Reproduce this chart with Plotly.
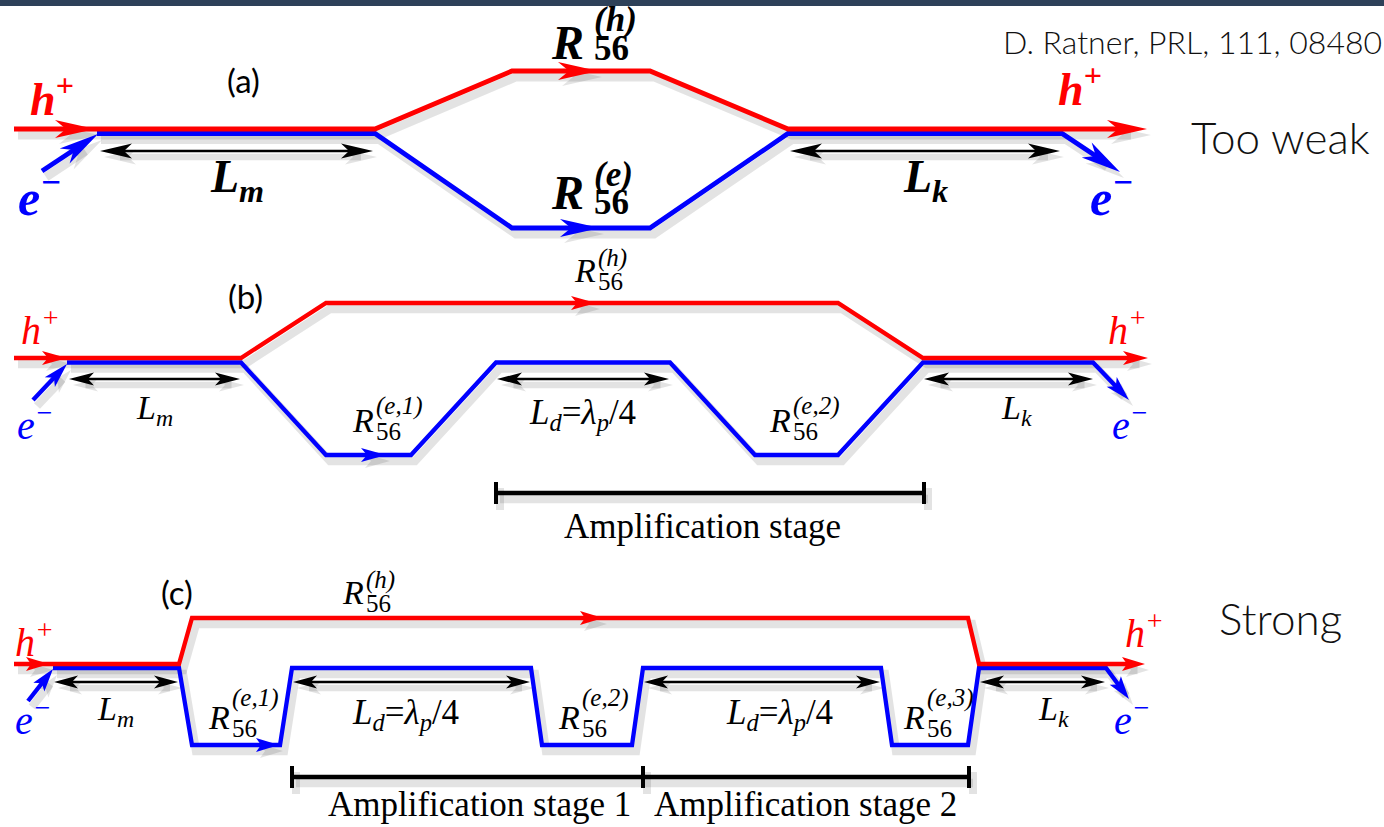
import math
import plotly.graph_objects as go

W, H = 1384, 827
RED, BLUE, BLACK = "#ff0000", "#0000ff", "#000000"
SERIF = "Liberation Serif, Times New Roman, serif"
SANS = "Lato, Open Sans, sans-serif"

# ---------------- geometry data (diagram coordinates) ----------------
# panel (a)
A_RED_X = [14, 375, 512, 650, 788, 1147]
A_RED_Y = [129, 129, 71, 71, 129, 129]
A_BLUE_X = [97, 375, 512, 650, 788, 1062, 1120]
A_BLUE_Y = [133.5, 133.5, 228, 228, 133.5, 133.5, 172]
A_EIN_X = [42, 98]
A_EIN_Y = [171, 134]
A_MID = [(95, 129, RED), (598, 71, RED), (600, 228, BLUE)]
A_DIM_Y = 151
A_DIM = [(100, 373), (790, 1060)]

# panel (b)
B_RED_X = [14, 241, 326, 838, 923, 1148]
B_RED_Y = [358, 358, 303, 303, 358, 358]
B_BLUE_X = [67, 241, 326, 411, 496, 670, 755, 838, 923, 1093, 1129]
B_BLUE_Y = [362.5, 362.5, 455, 455, 362.5, 362.5, 455, 455, 362.5, 362.5, 400]
B_EIN_X = [33, 67]
B_EIN_Y = [400, 364]
B_MID = [(67, 358, RED), (596, 303, RED), (386, 455, BLUE)]
B_DIM_Y = 379
B_DIM = [(69, 240), (497, 669), (924, 1093)]
B_STAGE_Y = 493
B_STAGE_TICKS = [496, 924]

# panel (c)
C_RED_X = [14, 179, 192, 968, 979, 1145]
C_RED_Y = [664, 664, 618, 618, 664, 664]
C_BLUE_X = [53, 179, 192, 280, 292, 531, 542, 632, 643, 881, 892, 968, 979, 1106, 1129]
C_BLUE_Y = [668, 668, 745, 745, 668, 668, 745, 745, 668, 668, 745, 745, 668, 668, 699]
C_EIN_X = [28, 53]
C_EIN_Y = [701, 669]
C_MID = [(49, 664, RED), (603, 618, RED), (279, 745, BLUE)]
C_DIM_Y = 682
C_DIM = [(54, 178), (293, 530), (644, 880), (980, 1105)]
C_STAGE_Y = 777
C_STAGE_TICKS = [292, 643, 969]

# arrow-head styles per panel: (length, half-width, notch)
HEAD = {"a": (40, 9, 11), "b": (25, 7, 6), "c": (23, 7, 5)}
DIMHEAD = {"a": (32, 7.5, 8), "b": (25, 6.5, 6), "c": (24, 6.5, 6)}
LW = {"a": 4.8, "b": 4.3, "c": 4.3}
DIMW = {"a": 2.6, "b": 2.3, "c": 2.3}

SH_DX, SH_DY = 4, 6
SHADOW = "rgba(0,0,0,0.11)"

shadow_traces, main_traces = [], []


def unit(x0, y0, x1, y1):
    dx, dy = x1 - x0, y1 - y0
    n = math.hypot(dx, dy)
    return dx / n, dy / n


def head_poly(tx, ty, fx, fy, L, hw, notch):
    ux, uy = unit(fx, fy, tx, ty)
    px, py = -uy, ux
    bx, by = tx - L * ux, ty - L * uy
    nx, ny = tx - (L - notch) * ux, ty - (L - notch) * uy
    return ([tx, bx + hw * px, nx, bx - hw * px, tx],
            [ty, by + hw * py, ny, by - hw * py, ty])


def line(xs, ys, color, width, shadow=True):
    if shadow:
        shadow_traces.append(go.Scatter(
            x=[v + SH_DX for v in xs], y=[v + SH_DY for v in ys], mode="lines",
            line=dict(color=SHADOW, width=width + 4), hoverinfo="skip", showlegend=False))
    main_traces.append(go.Scatter(
        x=xs, y=ys, mode="lines", line=dict(color=color, width=width),
        hoverinfo="skip", showlegend=False))


def head(tx, ty, fx, fy, color, spec, shadow=True):
    hx, hy = head_poly(tx, ty, fx, fy, *spec)
    if shadow:
        shadow_traces.append(go.Scatter(
            x=[v + SH_DX for v in hx], y=[v + SH_DY for v in hy], mode="lines",
            fill="toself", fillcolor=SHADOW, line=dict(width=0, color=SHADOW),
            hoverinfo="skip", showlegend=False))
    main_traces.append(go.Scatter(
        x=hx, y=hy, mode="lines", fill="toself", fillcolor=color,
        line=dict(width=0, color=color), hoverinfo="skip", showlegend=False))


def arrow_path(xs, ys, color, width, spec):
    L = spec[0]
    ux, uy = unit(xs[-2], ys[-2], xs[-1], ys[-1])
    px = list(xs[:-1]) + [xs[-1] - 0.5 * L * ux]
    py = list(ys[:-1]) + [ys[-1] - 0.5 * L * uy]
    line(px, py, color, width)
    head(xs[-1], ys[-1], xs[-2], ys[-2], color, spec)


def dim(x0, x1, y, width, spec):
    L = spec[0]
    line([x0 + 0.5 * L, x1 - 0.5 * L], [y, y], BLACK, width)
    head(x1, y, x0, y, BLACK, spec)
    head(x0, y, x1, y, BLACK, spec)


def stage(ticks, y, half=11):
    line([ticks[0], ticks[-1]], [y, y], BLACK, 4.5)
    for t in ticks:
        line([t, t], [y - half, y + half], BLACK, 4)


def panel(key, rx, ry, bx, by, ex, ey, mids, dim_y, dims):
    spec, w = HEAD[key], LW[key]
    arrow_path(bx, by, BLUE, w, spec)
    arrow_path(ex, ey, BLUE, w, spec)
    arrow_path(rx, ry, RED, w, spec)
    for (tx, ty, col) in mids:
        head(tx, ty, tx - 10, ty, col, spec)
    for (x0, x1) in dims:
        dim(x0, x1, dim_y, DIMW[key], DIMHEAD[key])


panel("a", A_RED_X, A_RED_Y, A_BLUE_X, A_BLUE_Y, A_EIN_X, A_EIN_Y, A_MID, A_DIM_Y, A_DIM)
panel("b", B_RED_X, B_RED_Y, B_BLUE_X, B_BLUE_Y, B_EIN_X, B_EIN_Y, B_MID, B_DIM_Y, B_DIM)
stage(B_STAGE_TICKS, B_STAGE_Y)
panel("c", C_RED_X, C_RED_Y, C_BLUE_X, C_BLUE_Y, C_EIN_X, C_EIN_Y, C_MID, C_DIM_Y, C_DIM)
stage(C_STAGE_TICKS, C_STAGE_Y)

fig = go.Figure(data=shadow_traces + main_traces)


def txt(x, y, s, size, color=BLACK, family=SERIF, style="italic", weight="normal",
        xanchor="left"):
    fig.add_annotation(x=x, y=y, text=s, showarrow=False, xanchor=xanchor,
                       yanchor="middle", xref="x", yref="y",
                       font=dict(family=family, size=size, color=color,
                                 style=style, weight=weight))


def r56(x, y, sup, size, subsize, bold, sub_dx, sub_dy, sup_dy):
    wt = "bold" if bold else "normal"
    txt(x, y, "R", size, weight=wt)
    txt(x + sub_dx, y + sub_dy, "56", subsize, style="normal", weight=wt)
    txt(x + sub_dx, y + sup_dy, sup, subsize, weight=wt)


HP = "h<sup>+</sup>"
EM = "e<sup>\u2212</sup>"
LD = ("L<sub>d</sub><span style='font-style:normal'>=</span>\u03bb<sub>p</sub>"
      "<span style='font-style:normal'>/4</span>")

# ---- panel (a) labels ----
txt(28, 96, HP, 46, RED, weight="bold")
txt(16, 194, EM, 50, BLUE, weight="bold")
txt(1056, 86, HP, 46, RED, weight="bold")
txt(1088, 194, EM, 50, BLUE, weight="bold")
txt(237, 180, "L<sub>m</sub>", 46, weight="bold", xanchor="center")
txt(925, 180, "L<sub>k</sub>", 46, weight="bold", xanchor="center")
r56(549, 42, "(<i>h</i>)", 48, 35, True, 43, 6, -23)
r56(549, 192, "(<i>e</i>)", 48, 35, True, 43, 10, -18)
txt(243, 80, "(a)", 33, family=SANS, style="normal", xanchor="center")

# ---- panel (b) labels ----
txt(19, 327, HP, 40, RED)
txt(15, 422, EM, 40, BLUE)
txt(1106, 327, HP, 40, RED)
txt(1110, 422, EM, 40, BLUE)
txt(154, 410, "L<sub>m</sub>", 34, xanchor="center")
txt(1016, 410, "L<sub>k</sub>", 34, xanchor="center")
txt(582, 414, LD, 35, xanchor="center")
r56(572, 270, "(<i>h</i>)", 34, 25, False, 24, 11, -12)
r56(350, 420, "(<i>e</i>,1)", 34, 25, False, 24, 11, -14)
r56(767, 420, "(<i>e</i>,2)", 34, 25, False, 24, 11, -14)
txt(245, 296, "(b)", 33, family=SANS, style="normal", xanchor="center")
txt(702, 526, "Amplification stage", 35, style="normal", xanchor="center")

# ---- panel (c) labels ----
txt(13, 639, HP, 40, RED)
txt(13, 717, EM, 40, BLUE)
txt(1123, 630, HP, 40, RED)
txt(1112, 717, EM, 40, BLUE)
txt(115, 711, "L<sub>m</sub>", 34, xanchor="center")
txt(1053, 711, "L<sub>k</sub>", 34, xanchor="center")
txt(405, 714, LD, 35, xanchor="center")
txt(779, 714, LD, 35, xanchor="center")
r56(340, 592, "(<i>h</i>)", 34, 25, False, 24, 11, -12)
r56(206, 717, "(<i>e</i>,1)", 34, 25, False, 24, 11, -19)
r56(556, 717, "(<i>e</i>,2)", 34, 25, False, 24, 11, -19)
r56(901, 717, "(<i>e</i>,3)", 34, 25, False, 24, 11, -19)
txt(177, 592, "(c)", 33, family=SANS, style="normal", xanchor="center")
txt(479, 804, "Amplification stage 1", 35, style="normal", xanchor="center")
txt(805, 804, "Amplification stage 2", 35, style="normal", xanchor="center")

# ---- captions ----
txt(1001, 41, "D. Ratner, PRL, 111, 084801", 32, "#111111", family=SANS,
    style="normal", weight=300)
txt(1189, 137, "Too weak", 44, "#111111", family=SANS, style="normal", weight=300)
txt(1217, 618, "Strong", 44, "#111111", family=SANS, style="normal", weight=300)

fig.update_layout(
    width=W, height=H, margin=dict(l=0, r=0, t=0, b=0),
    paper_bgcolor="white", plot_bgcolor="white", showlegend=False,
    xaxis=dict(range=[0, W], visible=False, fixedrange=True),
    yaxis=dict(range=[H, 0], visible=False, fixedrange=True),
    shapes=[dict(type="rect", xref="paper", yref="paper", x0=0, x1=1,
                 y0=1 - 6 / H, y1=1, fillcolor="#2e4159", line=dict(width=0),
                 layer="above")],
)

fig.write_html("out.html")
